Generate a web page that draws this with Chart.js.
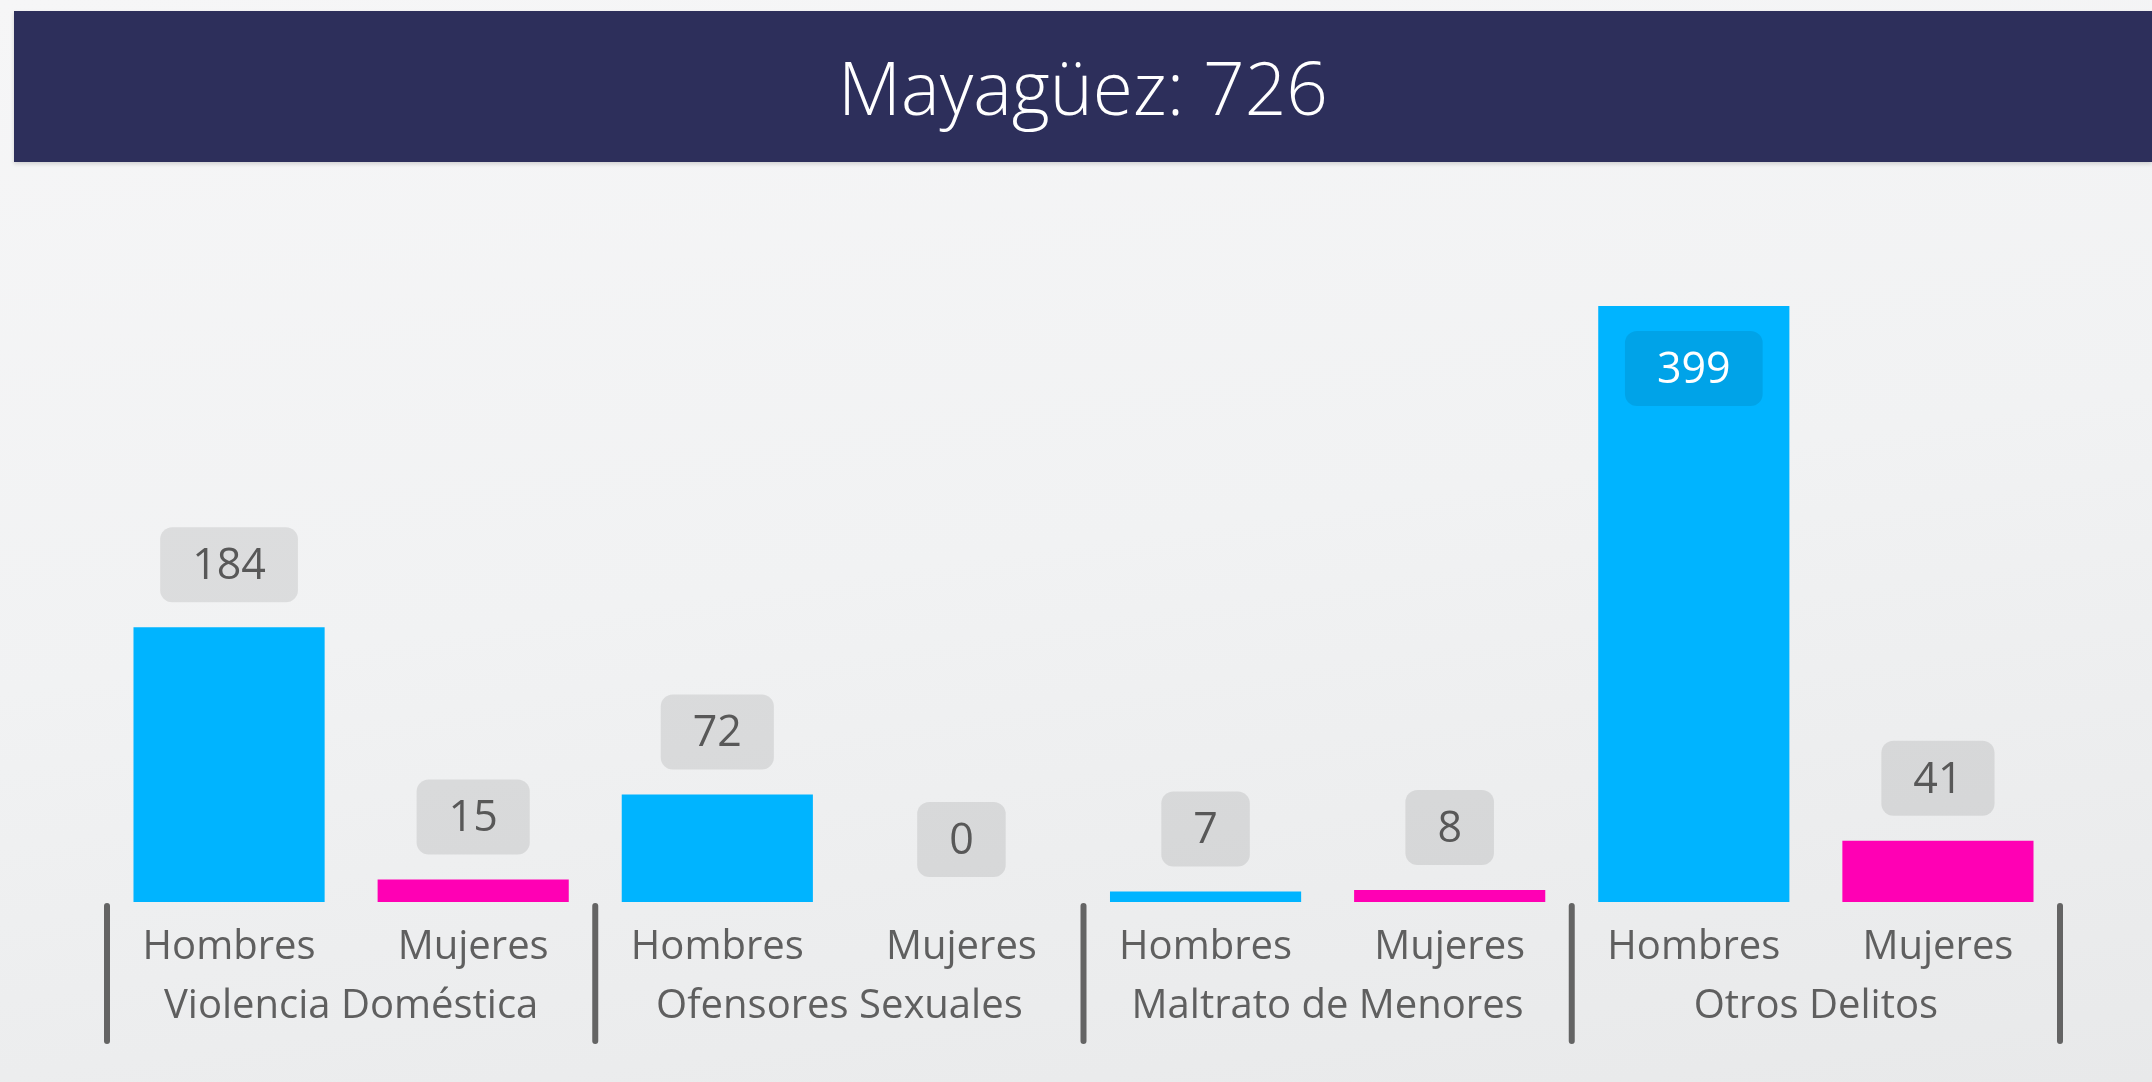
<!DOCTYPE html>
<html>
<head>
<meta charset="utf-8">
<script src="https://cdn.jsdelivr.net/npm/chart.js@4.4.1/dist/chart.umd.min.js"></script>
<style>
    html, body {
        margin: 0;
        padding: 0;
        width: 2152px;
        height: 1082px;
        overflow: hidden;
        background: linear-gradient(172deg, #f6f6f7 0%, #f1f2f3 50%, #e8e9ea 100%);
        font-family: 'Open Sans', sans-serif;
    }
    #cabecera {
        position: absolute;
        left: 14px;
        top: 11px;
        width: 2138px;
        height: 151px;
        background: #2d2f5b;
        color: #ffffff;
        font-weight: 300;
        font-size: 73px;
        display: flex;
        align-items: center;
        justify-content: center;
        box-shadow: 0 2px 4px rgba(0, 0, 0, 0.15);
        z-index: 2;
    }
    #diagrama {
        position: absolute;
        left: 0;
        top: 0;
    }
</style>
</head>
<body>
<div id="cabecera"></div>
<canvas id="diagrama" width="2152" height="1082"></canvas>
<script>
const municipio = 'Mayagüez';
const categorias = ['Violencia Doméstica', 'Ofensores Sexuales', 'Maltrato de Menores', 'Otros Delitos'];
const generos = ['Hombres', 'Mujeres', 'Hombres', 'Mujeres', 'Hombres', 'Mujeres', 'Hombres', 'Mujeres'];
const valores = [184, 15, 72, 0, 7, 8, 399, 41];
const colorHombres = '#00b4ff';
const colorMujeres = '#ff00b4';

const total = valores.reduce((a, b) => a + b, 0);
document.getElementById('cabecera').textContent = municipio + ': ' + total;

// lineas verticales entre categorias, debajo del eje
const separadores = {
    id: 'separadores',
    afterDraw(chart) {
        const ctx = chart.ctx;
        const x = chart.scales.x;
        const arriba = chart.chartArea.bottom;
        ctx.save();
        ctx.strokeStyle = '#646464';
        ctx.lineWidth = 6;
        ctx.lineCap = 'round';
        for (let i = 0; i <= categorias.length; i++) {
            const px = x.getPixelForValue(i * 2 - 0.5);
            ctx.beginPath();
            ctx.moveTo(px, arriba + 4);
            ctx.lineTo(px, arriba + 139);
            ctx.stroke();
        }
        ctx.restore();
    }
};

// etiquetas con fondo redondeado
const etiquetas = {
    id: 'etiquetas',
    afterDatasetsDraw(chart) {
        const ctx = chart.ctx;
        const meta = chart.getDatasetMeta(0);
        ctx.save();
        ctx.font = '43px "Open Sans"';
        ctx.textAlign = 'center';
        ctx.textBaseline = 'middle';
        meta.data.forEach((barra, i) => {
            const texto = String(valores[i]);
            const ancho = ctx.measureText(texto).width + 64;
            const alto = 75;
            let centroY = barra.y - 25 - alto / 2;
            let dentro = false;
            if (centroY - alto / 2 < chart.chartArea.top) {
                centroY = barra.y + 25 + alto / 2;
                dentro = true;
            }
            ctx.fillStyle = 'rgba(0, 0, 0, 0.09)';
            ctx.beginPath();
            ctx.roundRect(barra.x - ancho / 2, centroY - alto / 2, ancho, alto, 12);
            ctx.fill();
            ctx.fillStyle = dentro ? '#ffffff' : '#585858';
            ctx.fillText(texto, barra.x, centroY + 2);
        });
        ctx.restore();
    }
};

const canva = document.getElementById('diagrama');

new Chart(canva, {
    type: 'bar',
    data: {
        labels: generos,
        datasets: [{
            data: valores,
            backgroundColor: valores.map((v, i) => i % 2 === 0 ? colorHombres : colorMujeres),
            barPercentage: 0.783,
            categoryPercentage: 1
        }]
    },
    options: {
        responsive: false,
        animation: false,
        layout: {
            padding: { left: 107, right: 92, top: 306, bottom: 0 }
        },
        plugins: {
            legend: { display: false },
            tooltip: { enabled: false }
        },
        scales: {
            y: {
                display: false,
                min: 0,
                max: Math.max(...valores)
            },
            x: {
                offset: true,
                grid: { display: false },
                border: { display: false },
                ticks: {
                    color: '#5f5f5f',
                    font: { family: 'Open Sans', size: 40 },
                    padding: 14,
                    maxRotation: 0,
                    autoSkip: false
                },
                afterFit: function(scale) { scale.height = 67; }
            },
            x2: {
                type: 'category',
                labels: categorias,
                position: 'bottom',
                offset: true,
                grid: { display: false },
                border: { display: false },
                ticks: {
                    color: '#5f5f5f',
                    font: { family: 'Open Sans', size: 40 },
                    padding: 6,
                    maxRotation: 0,
                    autoSkip: false
                },
                afterFit: function(scale) { scale.height = 113; }
            }
        }
    },
    plugins: [separadores, etiquetas]
});
</script>
</body>
</html>
